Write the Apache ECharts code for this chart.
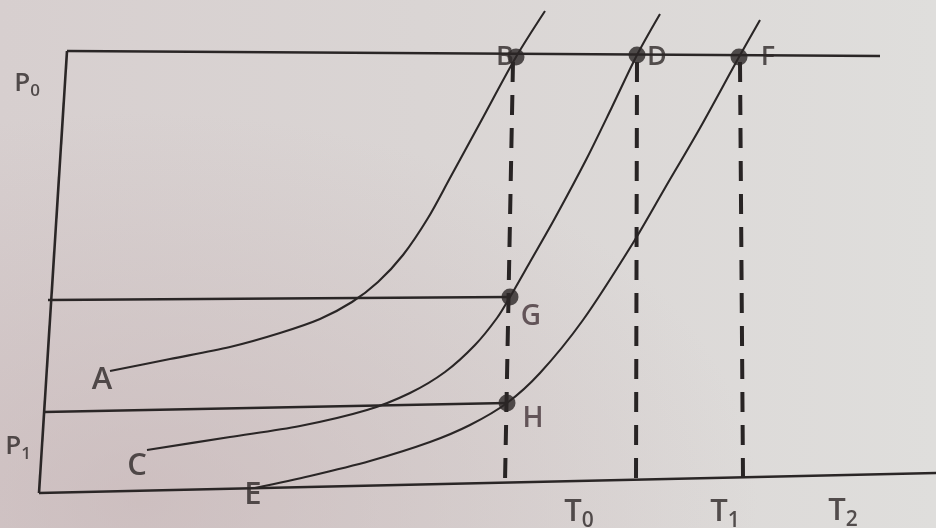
<!DOCTYPE html>
<html>
<head>
<meta charset="utf-8">
<script src="https://cdn.jsdelivr.net/npm/echarts@6/dist/echarts.min.js"></script>
<style>
  html, body { margin: 0; padding: 0; }
  #chart {
    width: 936px; height: 528px;
    background:
      radial-gradient(ellipse at 15% 95%, rgba(196,176,178,0.55) 0%, rgba(196,176,178,0) 55%),
      linear-gradient(90deg, #d7cfcf 0%, #dad5d4 45%, #dfdedc 100%);
  }
</style>
</head>
<body>
<div id="chart"></div>
<script>
// Vapour pressure against temperature: pure solvent (A) and two solutions (C, E).
// Points are [temperature, height] in the diagram's own units; height grows downward.

const curveA = [[110,371],[170,359],[230,347],[280,333],[320,319],[352,302],[378,282],[403,255],[428,218],[450,178],[480,123],[516,57],[545,11]];
const curveC = [[147,450],[230,437],[300,426],[367,410],[410,393],[445,372],[475,345],[497,318],[510,297],[530,262],[555,218],[587,158],[612,107],[637,55],[660,14]];
const curveE = [[255,488],[310,476],[370,461],[430,442],[470,425],[507,403],[540,373],[583,320],[633,243],[665,188],[700,128],[739,57],[760,20]];

const axisLeft   = [[67,51],[39,493]];
const axisBottom = [[39,493],[936,473]];
const isobarP0   = [[67,51],[880,56]];
const isobarG    = [[48,300],[510,297]];
const isobarH    = [[44,412],[507,403]];

const dropB = [[513,62],[505,482]];
const dropD = [[637,62],[636,480]];
const dropF = [[740,62],[743,478]];

const markedPoints = [[516,57],[637,55],[739,57],[510,297],[507,403]];

const curveLetters = [['A',102,380],['C',137,466],['E',253,495]];
const topLetters   = [['B',505,57],['D',657,57],['F',768,57]];
const sideLetters  = [['G',531,317],['H',533,419]];
const tempLabels   = [['T','0',579,512],['T','1',725,512],['T','2',843,511]];
const pressLabels  = [['P','0',27,84],['P','1',18,447]];

const INK = '#2a2626';
const TEXT = '#2e2828';
const FONT = 'Open Sans';

function solid(data, width) {
  return { type: 'line', data: data, symbol: 'none', silent: true,
           lineStyle: { color: INK, width: width || 2 } };
}
function curve(data) {
  return { type: 'line', data: data, symbol: 'none', smooth: 0.3, silent: true,
           lineStyle: { color: INK, width: 2.1 } };
}
function dashed(data) {
  return { type: 'line', data: data, symbol: 'none', silent: true,
           lineStyle: { color: '#282424', width: 4, type: [20, 13], cap: 'butt' } };
}
function textSeries(items, rich) {
  return {
    type: 'scatter', silent: true, symbolSize: 0.1,
    itemStyle: { color: 'rgba(0,0,0,0)' },
    data: items,
    label: {
      show: true, position: 'inside', color: TEXT,
      fontFamily: FONT, formatter: p => p.data.text, rich: rich
    },
    z: 5
  };
}
function glyph(size, color, extra) {
  return Object.assign({ fontSize: size, fontFamily: FONT, fontWeight: 600, color: color || TEXT }, extra || {});
}

const letterItems = arr => arr.map(d => ({ value: [d[1], d[2]], text: '{m|' + d[0] + '}' }));
const subItems = arr => arr.map(d => ({ value: [d[2], d[3]], text: '{m|' + d[0] + '}{s|' + d[1] + '}' }));

const chart = echarts.init(document.getElementById('chart'), null, { renderer: 'canvas' });

chart.setOption({
  animation: false,
  backgroundColor: 'transparent',
  grid: { left: 0, right: 0, top: 0, bottom: 0 },
  xAxis: { type: 'value', min: 0, max: 936, show: false },
  yAxis: { type: 'value', min: 0, max: 528, inverse: true, show: false },
  series: [
    solid(axisLeft, 2.6),
    solid(axisBottom, 2.6),
    solid(isobarP0, 2.6),
    solid(isobarG, 2.4),
    solid(isobarH, 2.4),
    curve(curveA),
    curve(curveC),
    curve(curveE),
    dashed(dropB),
    dashed(dropD),
    dashed(dropF),
    {
      type: 'scatter', silent: true, symbolSize: 17, data: markedPoints,
      itemStyle: { color: '#2a2626' }, z: 4
    },
    textSeries(letterItems(curveLetters), { m: glyph(31) }),
    textSeries(letterItems(topLetters), { m: glyph(27) }),
    textSeries(letterItems(sideLetters), { m: glyph(28, '#45353a') }),
    textSeries(subItems(tempLabels), {
      m: glyph(31, TEXT, { lineHeight: 31, verticalAlign: 'top' }),
      s: glyph(21, TEXT, { lineHeight: 21, verticalAlign: 'top', padding: [14, 0, 0, 0] })
    }),
    textSeries(subItems(pressLabels), {
      m: glyph(26, TEXT, { lineHeight: 26, verticalAlign: 'top' }),
      s: glyph(17, TEXT, { lineHeight: 17, verticalAlign: 'top', padding: [12, 0, 0, 0] })
    })
  ]
});
</script>
</body>
</html>
